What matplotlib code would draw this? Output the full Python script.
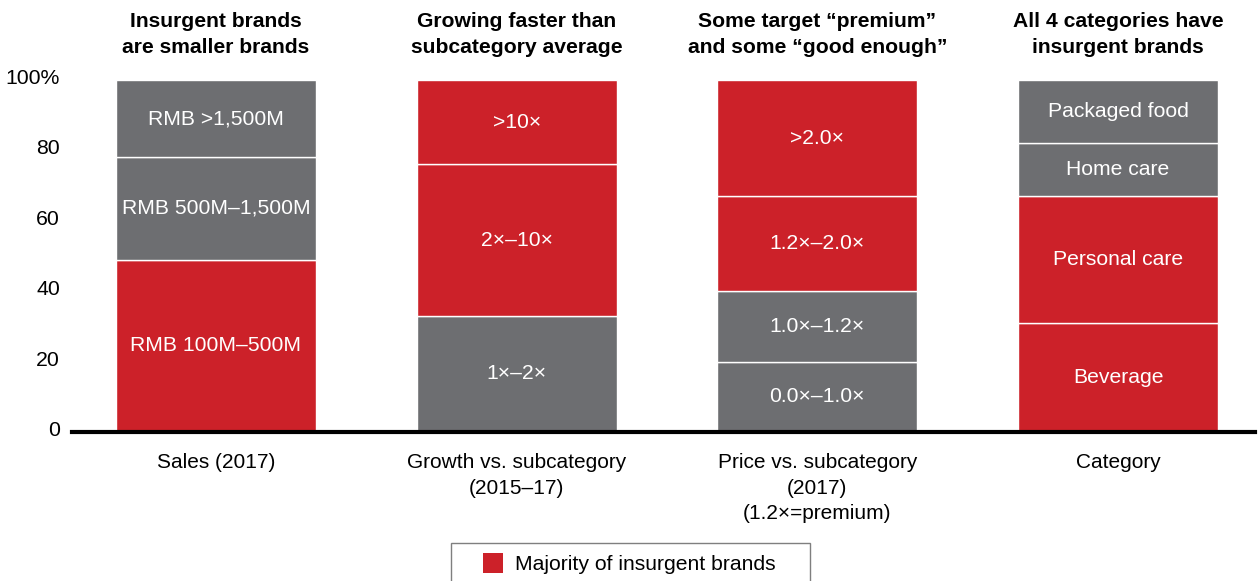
import matplotlib
matplotlib.use('Agg')
import matplotlib.pyplot as plt
from matplotlib.patches import Rectangle
from matplotlib.transforms import blended_transform_factory, ScaledTranslation

plt.rcParams['font.family'] = ['Liberation Sans', 'DejaVu Sans']

RED = '#CC2129'
GRAY = '#6D6E71'

titles = ["Insurgent brands\nare smaller brands",
          "Growing faster than\nsubcategory average",
          "Some target \u201cpremium\u201d\nand some \u201cgood enough\u201d",
          "All 4 categories have\ninsurgent brands"]
x_labels = ["Sales (2017)",
            "Growth vs. subcategory\n(2015\u201317)",
            "Price vs. subcategory\n(2017)\n(1.2\u00d7=premium)",
            "Category"]

sales_labels = ["RMB 100M\u2013500M", "RMB 500M\u20131,500M", "RMB >1,500M"]
sales_values = [49, 29, 22]
sales_majority = [True, False, False]

growth_labels = ["1\u00d7\u20132\u00d7", "2\u00d7\u201310\u00d7", ">10\u00d7"]
growth_values = [33, 43, 24]
growth_majority = [False, True, True]

price_labels = ["0.0\u00d7\u20131.0\u00d7", "1.0\u00d7\u20131.2\u00d7", "1.2\u00d7\u20132.0\u00d7", ">2.0\u00d7"]
price_values = [20, 20, 27, 33]
price_majority = [False, False, True, True]

category_labels = ["Beverage", "Personal care", "Home care", "Packaged food"]
category_values = [31, 36, 15, 18]
category_majority = [True, True, False, False]

yticks = [0, 20, 40, 60, 80, 100]
ytick_labels = ["0", "20", "40", "60", "80", "100%"]
legend_label = "Majority of insurgent brands"

bars = [
    (sales_labels, sales_values, sales_majority),
    (growth_labels, growth_values, growth_majority),
    (price_labels, price_values, price_majority),
    (category_labels, category_values, category_majority),
]

W, H = 1258, 581
fig = plt.figure(figsize=(W / 100, H / 100), dpi=100)
ax = fig.add_axes([72 / W, (H - 432) / H, (1255 - 72) / W, (432 - 80) / H])

bar_w = 200 / 300.7
for i, (labels, values, majority) in enumerate(bars):
    bottom = 0
    for lab, v, m in zip(labels, values, majority):
        ax.bar(i, v, bottom=bottom, width=bar_w, color=RED if m else GRAY,
               edgecolor='white', linewidth=1.0, clip_on=False, zorder=2)
        ax.text(i, bottom + v / 2, lab, ha='center', va='center',
                color='white', fontsize=15.2, zorder=3)
        bottom += v

ax.set_xlim(-144 / 300.7, 3 + 137 / 300.7)
ax.set_ylim(0, 100)
ax.set_yticks(yticks)
ax.set_yticklabels([])
ytr = ax.get_yaxis_transform() + ScaledTranslation(-0.12, 0.035, fig.dpi_scale_trans)
for y, lab in zip(yticks, ytick_labels):
    ax.text(0, y, lab, transform=ytr, ha='right', va='center_baseline',
            fontsize=15.3, clip_on=False)
ax.set_xticks(range(len(x_labels)))
ax.set_xticklabels(x_labels, fontsize=15)
for t in ax.get_xticklabels():
    t.set_linespacing(1.45)
ax.tick_params(axis='both', length=0)
ax.tick_params(axis='x', pad=15)
for s in ['top', 'right', 'left']:
    ax.spines[s].set_visible(False)
ax.spines['bottom'].set_linewidth(3)
ax.spines['bottom'].set_color('black')
ax.spines['bottom'].set_zorder(4)

tr = blended_transform_factory(ax.transData, fig.transFigure)
for i, t in enumerate(titles):
    ax.text(i, 1 - 34.5 / H, t, transform=tr, ha='center', va='center',
            fontsize=15.2, fontweight='bold', linespacing=1.5)

# legend box
fig.patches.append(Rectangle((451 / W, -0.05), (810 - 451) / W, 0.05 + (H - 543) / H,
                             transform=fig.transFigure, facecolor='white',
                             edgecolor='#7f7f7f', linewidth=1.0))
fig.patches.append(Rectangle((483 / W, (H - 573) / H), 20 / W, 20 / H,
                             transform=fig.transFigure, facecolor=RED, edgecolor='none'))
fig.text(515 / W, (H - 564) / H, legend_label, ha='left', va='center', fontsize=15.2)

fig.savefig('out.png', dpi=100)
